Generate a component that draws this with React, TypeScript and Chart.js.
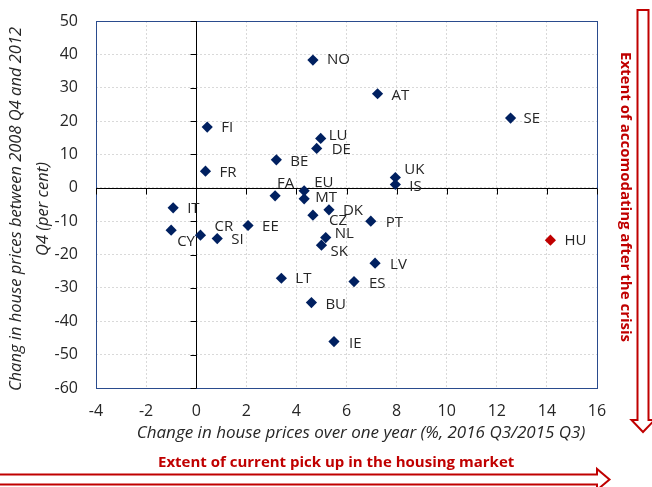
import React, { useEffect, useRef } from 'react';
import { Chart, registerables } from 'chart.js';

Chart.register(...registerables);

// ---- data ----
const countries = ['NO', 'AT', 'SE', 'FI', 'LU', 'DE', 'BE', 'FR', 'UK', 'IS', 'FA', 'EU', 'MT', 'IT', 'DK', 'CZ', 'PT', 'EE', 'CY', 'CR', 'SI', 'NL', 'SK', 'HU', 'LV', 'LT', 'ES', 'BU', 'IE'];
const changeOneYear = [4.66, 7.24, 12.55, 0.44, 4.97, 4.81, 3.2, 0.37, 7.95, 7.95, 3.15, 4.31, 4.31, -0.92, 5.3, 4.66, 6.97, 2.07, -1.0, 0.17, 0.84, 5.17, 5.0, 14.14, 7.14, 3.4, 6.3, 4.6, 5.5];
const change2008to2012 = [38.3, 28.2, 20.9, 18.2, 14.8, 11.8, 8.4, 5.0, 3.1, 1.0, -2.4, -0.9, -3.3, -6.0, -6.6, -8.2, -10.0, -11.3, -12.7, -14.2, -15.2, -14.9, -17.2, -15.7, -22.6, -27.1, -28.1, -34.4, -46.1];
const highlighted = ['HU'];
const xRange = [-4, 16];
const xStep = 2;
const yRange = [-60, 50];
const yStep = 10;
const xTitle = 'Change in house prices over one year (%, 2016 Q3/2015 Q3)';
const yTitle = ['Chang in house prices between 2008 Q4 and 2012', 'Q4 (per cent)'];
const bottomArrowText = 'Extent of current pick up in the housing market';
const rightArrowText = 'Extent of accomodating after the crisis';

// label placement (pixel offsets from the marker), styling only
const labelOffsets: [number, number][] = [
  [14, 0], [14, 2], [13, 1], [14, 1], [8, -3], [15, 1], [14, 2], [14, 2], [9, -8], [14, 2],
  [2, -12], [10, -8], [11, -1], [14, 1], [14, 1], [16, 6], [15, 2], [14, 1], [6, 12], [14, -8],
  [14, 1], [9, -4], [9, 7], [14, 1], [15, 2], [14, 1], [15, 2], [14, 2], [15, 2],
];

const NAVY = '#002060';
const RED = '#C00000';
const TEXT = '#262626';
const FONT = "'Open Sans', sans-serif";

const decorPlugin = {
  id: 'decor',
  beforeDatasetsDraw(chart: any) {
    const { ctx, chartArea: a, scales } = chart;
    const x = scales.x, y = scales.y;
    ctx.save();
    // plot border
    ctx.strokeStyle = '#2A4B8D';
    ctx.lineWidth = 1;
    ctx.strokeRect(Math.round(a.left) + 0.5, Math.round(a.top) + 0.5, Math.round(a.right - a.left), Math.round(a.bottom - a.top));
    // zero axes with tick marks
    const x0 = Math.round(x.getPixelForValue(0)) + 0.5;
    const y0 = Math.round(y.getPixelForValue(0)) + 0.5;
    ctx.strokeStyle = '#000';
    ctx.beginPath();
    ctx.moveTo(a.left, y0);
    ctx.lineTo(a.right, y0);
    ctx.moveTo(x0, a.top);
    ctx.lineTo(x0, a.bottom);
    x.ticks.forEach((t: any) => {
      const px = Math.round(x.getPixelForValue(t.value)) + 0.5;
      ctx.moveTo(px, y0);
      ctx.lineTo(px, y0 + 6);
    });
    y.ticks.forEach((t: any) => {
      const py = Math.round(y.getPixelForValue(t.value)) + 0.5;
      ctx.moveTo(x0 - 6, py);
      ctx.lineTo(x0, py);
    });
    ctx.stroke();
    ctx.restore();
  },
  afterDatasetsDraw(chart: any) {
    const { ctx } = chart;
    const meta = chart.getDatasetMeta(0);
    ctx.save();
    ctx.font = `15px ${FONT}`;
    ctx.fillStyle = TEXT;
    ctx.textAlign = 'left';
    ctx.textBaseline = 'middle';
    meta.data.forEach((pt: any, i: number) => {
      const { x, y } = pt.getProps(['x', 'y'], true);
      const [dx, dy] = labelOffsets[i] || [14, 0];
      ctx.fillText(countries[i], x + dx, y + dy);
    });
    ctx.restore();
  },
  afterDraw(chart: any) {
    const { ctx } = chart;
    ctx.save();
    // axis titles
    ctx.fillStyle = TEXT;
    ctx.font = `italic 17px ${FONT}`;
    ctx.textAlign = 'center';
    ctx.textBaseline = 'middle';
    ctx.fillText(xTitle, 361, 433);
    ctx.font = `italic 16.5px ${FONT}`;
    yTitle.forEach((line, i) => {
      ctx.save();
      ctx.translate(16 + i * 27, 209);
      ctx.rotate(-Math.PI / 2);
      ctx.fillText(line, 0, 0);
      ctx.restore();
    });
    // arrows
    ctx.strokeStyle = RED;
    ctx.lineWidth = 2;
    ctx.beginPath();
    ctx.moveTo(-5, 474.5);
    ctx.lineTo(597, 474.5);
    ctx.lineTo(597, 469);
    ctx.lineTo(609.5, 479.5);
    ctx.lineTo(597, 490);
    ctx.lineTo(597, 484.5);
    ctx.lineTo(-5, 484.5);
    ctx.stroke();
    ctx.beginPath();
    ctx.moveTo(637.5, 10);
    ctx.lineTo(648.5, 10);
    ctx.lineTo(648.5, 420);
    ctx.lineTo(654.5, 420);
    ctx.lineTo(643, 432);
    ctx.lineTo(631.5, 420);
    ctx.lineTo(637.5, 420);
    ctx.closePath();
    ctx.stroke();
    // arrow texts
    ctx.fillStyle = RED;
    ctx.font = `bold 15px ${FONT}`;
    ctx.textAlign = 'left';
    ctx.textBaseline = 'middle';
    ctx.fillText(bottomArrowText, 158, 463);
    ctx.save();
    ctx.translate(625, 52);
    ctx.rotate(Math.PI / 2);
    ctx.fillText(rightArrowText, 0, 0);
    ctx.restore();
    ctx.restore();
  },
};

export default function App() {
  const ref = useRef<HTMLCanvasElement>(null);
  useEffect(() => {
    if (!ref.current) return;
    const points = countries.map((c, i) => ({ x: changeOneYear[i], y: change2008to2012[i] }));
    const colors = countries.map((c) => (highlighted.includes(c) ? RED : NAVY));
    const chart = new Chart(ref.current, {
      type: 'scatter',
      data: {
        datasets: [
          {
            data: points,
            pointStyle: 'rectRot',
            pointRadius: 5.6,
            pointBorderWidth: 0,
            pointBackgroundColor: colors,
            pointBorderColor: colors,
          },
        ],
      },
      options: {
        responsive: false,
        animation: false,
        events: [],
        layout: { padding: { left: 0, top: 21, right: 55, bottom: 0 } },
        plugins: { legend: { display: false }, tooltip: { enabled: false } },
        scales: {
          x: {
            type: 'linear',
            min: xRange[0],
            max: xRange[1],
            afterFit(s: any) {
              s.height = 99;
              s.paddingLeft = 0;
              s.paddingRight = 0;
            },
            ticks: { stepSize: xStep, padding: 14, color: TEXT, font: { family: FONT, size: 16 } },
            grid: { color: '#d9d9d9', drawTicks: false, lineWidth: 1 },
            border: { display: false, dash: [2, 2] },
          },
          y: {
            type: 'linear',
            min: yRange[0],
            max: yRange[1],
            afterFit(s: any) {
              s.width = 96;
              s.paddingTop = 0;
              s.paddingBottom = 0;
            },
            ticks: { stepSize: yStep, padding: 18, color: TEXT, font: { family: FONT, size: 16 } },
            grid: { color: '#d9d9d9', drawTicks: false, lineWidth: 1 },
            border: { display: false, dash: [2, 2] },
          },
        },
      },
      plugins: [decorPlugin],
    });
    return () => chart.destroy();
  }, []);
  return (
    <div style={{ position: 'absolute', left: 0, top: 0, width: 652, height: 487, background: '#fff' }}>
      <canvas ref={ref} width={652} height={487} style={{ display: 'block' }} />
    </div>
  );
}
